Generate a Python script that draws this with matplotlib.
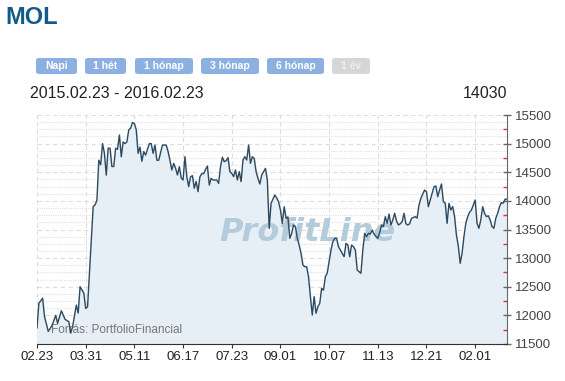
import matplotlib
matplotlib.use("Agg")
import matplotlib.pyplot as plt
from matplotlib.patches import FancyBboxPatch
from matplotlib.ticker import MultipleLocator

plt.rcParams["font.family"] = ["Liberation Sans", "DejaVu Sans"]

# ---------- data (trading day index -> closing price) ----------
days = [0, 1, 3, 4, 6, 8, 10, 11, 13, 15, 17, 18, 19, 21, 22, 23, 25, 26, 27,
        30, 31, 32, 33, 34, 35, 36, 37, 38, 39, 40, 41, 42, 43, 44, 45, 46, 47, 48,
        49, 50, 51, 52, 53, 54, 55, 56, 57, 58, 60, 61, 62, 63, 64, 65, 67, 69, 70,
        71, 72, 73, 74, 75, 76, 77, 78, 79, 80, 81, 82, 83, 84, 85, 86, 87, 88, 89,
        90, 91, 92, 93, 94, 95, 96, 97, 98, 99, 100, 101, 102, 103, 104, 105, 106,
        107, 108, 109, 110, 111, 112, 113, 114, 115, 116, 117, 118, 119, 120, 121,
        122, 123, 124, 125, 126, 127, 128, 129, 130, 131, 132, 133, 134, 135, 136,
        137, 138, 139, 140, 141, 142, 143, 144, 145, 146, 147, 148, 149, 150, 151,
        152, 153, 154, 155, 156, 157, 158, 159, 160, 161, 162, 163, 164, 165, 166,
        167, 168, 169, 170, 171, 172, 173, 174, 175, 176, 177, 178, 179, 180, 181,
        182, 183, 184, 185, 186, 187, 188, 189, 190, 191, 192, 193, 194, 195, 196,
        197, 198, 199, 200, 201, 202, 203, 204, 205, 206, 207, 208, 209, 210, 211,
        212, 213, 214, 215, 216, 217, 218, 219, 220, 221, 222, 223, 224, 225, 226,
        227, 228, 229, 230, 231, 232, 233, 234, 235, 236, 237, 238, 239, 240, 241,
        242, 243, 244, 245, 246, 247, 248, 249, 250, 251]
price = [11780, 12210, 12300, 11980, 11720, 11820, 12000, 11860, 12080, 11930,
         11890, 11690, 11800, 12180, 12040, 12500, 12390, 12120, 12150,
         13900, 13930, 14010, 14710, 14630, 15000, 14830, 14450, 14920, 14920,
         14600, 14600, 14920, 14900, 15150, 14770, 15030, 15000, 15030,
         15240, 15270, 15370, 15350, 15240, 14830, 14940, 14690, 14860, 14800,
         15000, 15000, 14830, 14975, 14710, 14710, 14975, 14975, 14860,
         14710, 14540, 14655, 14570, 14452, 14597, 14400, 14365, 14772, 14423,
         14248, 14420, 14440, 14220, 14340, 14161, 14420, 14475, 14475,
         14550, 14609, 14277, 14394, 14365, 14365, 14365, 14306, 14597, 14761,
         14685, 14700, 14755, 14510, 14480, 14423, 14540,
         14365, 14510, 14336, 14714, 14772, 14714, 14976, 14655, 14772, 14740,
         14510, 14394, 14295, 14452, 14510,
         14568, 14365, 13521, 13957, 14030, 14103, 14050, 13986, 13841, 13608,
         13898, 13695, 13720, 13346, 13430,
         13579, 13550, 13346, 13229, 13084, 12880, 12850, 12850, 12676, 12327,
         12006, 12327, 12036, 12152, 12210,
         12473, 12440, 12676, 12740, 12938, 13142, 13287, 13346, 13346, 13200,
         13142, 13084, 13025, 13258, 13230,
         13025, 13229, 13200, 13140, 12793, 12763, 12735, 13142, 13433, 13375,
         13433, 13420, 13491, 13420, 13380,
         13346, 13450, 13579, 13550, 13724, 13608, 13770, 13579, 13666, 13783,
         13650, 13579, 13600, 13637, 13783,
         13600, 13579, 13600, 13695, 13710, 13724, 13700, 13928, 14045, 14120,
         14190, 14160, 13898, 14015, 14132,
         14248, 14260, 14074, 14190, 14295, 13986, 13960, 13608, 13957, 13841,
         13900, 13724, 13400, 13212, 12909,
         13084, 13375, 13608, 13724, 13800, 13841, 13928, 14015, 13608, 13521,
         13666, 13898, 13783, 13724, 13740,
         13666, 13550, 13521, 13695, 13783, 13898, 13970, 13960, 14030, 14030]

tick_days = [0, 26, 52, 78, 104, 130, 156, 182, 208, 234]
tick_labels = ["02.23", "03.31", "05.11", "06.17", "07.23", "09.01",
               "10.07", "11.13", "12.21", "02.01"]
buttons = ["Napi", "1 hét", "1 hónap", "3 hónap", "6 hónap", "1 év"]
date_range = "2015.02.23 - 2016.02.23"
last_price = "14030"

# ---------- figure ----------
fig = plt.figure(figsize=(5.65, 3.81), dpi=100)
W, H = 565, 381

fig.text(5 / W, 1 - 18 / H, "MOL", fontsize=17, fontweight="bold",
         color="#135a8a", va="center", ha="left")

# range buttons
btn_x = [36, 85, 135, 201, 267, 332]
btn_w = [41, 41, 58, 58, 57, 38]
for i, label in enumerate(buttons):
    active = label != "1 év"
    face = "#8db0e2" if active else "#d6d6d6"
    tcol = "white" if active else "#eeeeee"
    box = FancyBboxPatch((btn_x[i] / W, 1 - 74 / H), btn_w[i] / W, 16 / H,
                         boxstyle="round,pad=0,rounding_size=0.006",
                         transform=fig.transFigure, facecolor=face,
                         edgecolor="none")
    fig.patches.append(box)
    fig.text((btn_x[i] + btn_w[i] / 2) / W, 1 - 66 / H, label, fontsize=7.5,
             fontweight="bold", color=tcol, ha="center", va="center")

fig.text(30 / W, 1 - 94 / H, date_range, fontsize=11.5, color="#222222",
         ha="left", va="center")
fig.text(507 / W, 1 - 94 / H, last_price, fontsize=11.5, color="#222222",
         ha="right", va="center")

ax = fig.add_axes([37 / W, 1 - 344 / H, 470 / W, 229 / H])
ax.set_xlim(0, 251)
ax.set_ylim(11500, 15500)

ax.fill_between(days, price, 11500, color="#e6eef6", zorder=1)
ax.plot(days, price, color="#2e4a60", lw=1.0, zorder=4)

ax.text(0.575, 0.487, "ProfitLine", transform=ax.transAxes, fontsize=23,
        fontweight="bold", style="italic", color="#b3cbdb", ha="center",
        va="center", zorder=2, family="DejaVu Sans")
ax.text(14 / 470, 0.06, "Forrás: PortfolioFinancial", transform=ax.transAxes,
        fontsize=8.5, color="#777777", ha="left", va="center", zorder=3)

# grid
for v in range(11500, 15501, 500):
    ax.axhline(v, color="#dddddd", lw=0.8, ls=(0, (4, 3)), zorder=0.5)
for v in range(11625, 15500, 125):
    if v % 500:
        ax.axhline(v, color="#e2e2e2", lw=0.8, ls=(0, (1, 1)), zorder=0.5)
for d in tick_days:
    ax.axvline(d, color="#dddddd", lw=0.8, ls=(0, (4, 3)), zorder=0.5)

ax.set_xticks(tick_days)
ax.set_xticklabels(tick_labels)
ax.yaxis.tick_right()
ax.yaxis.set_major_locator(MultipleLocator(500))
ax.yaxis.set_minor_locator(MultipleLocator(250))
ax.tick_params(axis="y", which="both", left=False, right=True)
ax.tick_params(axis="y", which="major", direction="inout", length=6,
               width=1, color="#666666", labelsize=9.5, labelcolor="#444444",
               pad=3)
ax.tick_params(axis="y", which="minor", direction="in", length=3,
               width=1, color="#e03030")
ax.tick_params(axis="x", direction="out", length=3, color="#333333",
               labelsize=9.5, labelcolor="#222222", pad=2)

for s in ["top", "left"]:
    ax.spines[s].set_visible(False)
ax.spines["right"].set_color("#666666")
ax.spines["bottom"].set_color("#333333")
ax.patch.set_alpha(0)

fig.savefig("out.png", dpi=100)
